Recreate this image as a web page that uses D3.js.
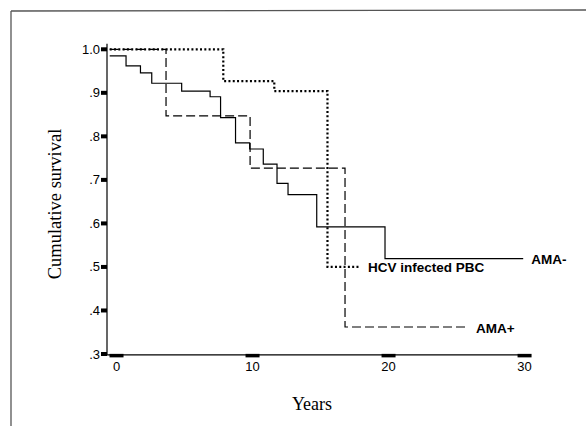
<!DOCTYPE html>
<html>
<head>
<meta charset="utf-8">
<script src="https://cdn.jsdelivr.net/npm/d3@7"></script>
<style>
  html, body { margin: 0; padding: 0; background: #fff; }
  svg { display: block; }
</style>
</head>
<body>
<svg id="chart" width="586" height="426"></svg>
<script>
// ---- data ----
const xTicks = [0, 10, 20, 30];
const xTickLabels = ["0", "10", "20", "30"];
const yTicks = [1.0, 0.9, 0.8, 0.7, 0.6, 0.5, 0.4, 0.3];
const yTickLabels = ["1.0", ".9", ".8", ".7", ".6", ".5", ".4", ".3"];

// AMA- (solid): start value, then [time, new value] at each step, last follow-up time
const amaNegStart = 0.985;
const amaNegSteps = [[0.70, 0.962], [1.76, 0.946], [2.59, 0.922], [4.79, 0.904], [6.88, 0.891],
  [7.65, 0.843], [8.75, 0.785], [9.79, 0.771], [10.79, 0.736], [11.80, 0.692], [12.61, 0.666],
  [14.72, 0.592], [19.74, 0.519]];
const amaNegEnd = 29.9;

// AMA+ (dashed)
const amaPosStart = 1.0;
const amaPosSteps = [[3.64, 0.847], [9.82, 0.727], [16.80, 0.362]];
const amaPosEnd = 25.85;

// HCV infected PBC (dotted)
const hcvStart = 1.0;
const hcvSteps = [[7.85, 0.927], [11.60, 0.904], [15.51, 0.500]];
const hcvEnd = 17.9;

const seriesNames = ["AMA-", "AMA+", "HCV infected PBC"];

// ---- layout ----
const svg = d3.select("#chart");
const x = d3.scaleLinear().domain([-0.7, 30.4]).range([107, 530]);
const y = d3.scaleLinear().domain([0.3, 1.0]).range([354, 49.3]);
const yTop = 1.013, yBottom = 0.298;

// frame (scanned figure border: top and left)
svg.append("line").attr("x1", 11).attr("y1", 11).attr("x2", 586).attr("y2", 10)
  .attr("stroke", "#555").attr("stroke-width", 1.3);
svg.append("line").attr("x1", 11).attr("y1", 11).attr("x2", 11).attr("y2", 426)
  .attr("stroke", "#555").attr("stroke-width", 1.3);

// axes lines
svg.append("line").attr("x1", x.range()[0]).attr("x2", x.range()[0])
  .attr("y1", y(yTop)).attr("y2", y(yBottom)).attr("stroke", "#000").attr("stroke-width", 1.2);
svg.append("line").attr("x1", x.range()[0]).attr("x2", x.range()[1])
  .attr("y1", y(yBottom)).attr("y2", y(yBottom)).attr("stroke", "#000").attr("stroke-width", 1.2);

// y ticks: thick short bars on left of axis
const yg = svg.append("g");
yTicks.forEach((v, i) => {
  yg.append("rect").attr("x", x.range()[0] - 6).attr("y", y(v) - 2)
    .attr("width", 6).attr("height", 4).attr("fill", "#000");
  yg.append("text").attr("x", x.range()[0] - 7).attr("y", y(v))
    .attr("text-anchor", "end").attr("dominant-baseline", "central")
    .attr("font-family", "Liberation Sans, Arial, sans-serif").attr("font-size", 13)
    .text(yTickLabels[i]);
});

// x ticks: thick bars along the axis
const xg = svg.append("g");
xTicks.forEach((v, i) => {
  xg.append("rect").attr("x", x(v) - 7).attr("y", y(yBottom) - 1)
    .attr("width", 14).attr("height", 3.5).attr("fill", "#000");
  xg.append("text").attr("x", x(v)).attr("y", y(yBottom) + 12)
    .attr("text-anchor", "middle").attr("dominant-baseline", "central")
    .attr("font-family", "Liberation Sans, Arial, sans-serif").attr("font-size", 13)
    .text(xTickLabels[i]);
});

// axis titles
svg.append("text").attr("x", 312).attr("y", 410).attr("text-anchor", "middle")
  .attr("font-family", "Liberation Serif, Times New Roman, serif").attr("font-size", 18)
  .text("Years");
svg.append("text").attr("transform", "translate(55,204) rotate(-90)")
  .attr("text-anchor", "middle").attr("dominant-baseline", "central")
  .attr("font-family", "Liberation Serif, Times New Roman, serif").attr("font-size", 18.5)
  .text("Cumulative survival");

// step curves
function stepPoints(start, steps, end) {
  const pts = [[x.domain()[0] + 0.2, start]];
  steps.forEach(s => pts.push([s[0], s[1]]));
  pts.push([end, steps[steps.length - 1][1]]);
  return pts;
}
const line = d3.line().x(d => x(d[0])).y(d => y(d[1])).curve(d3.curveStepAfter);

const series = [
  { name: seriesNames[0], pts: stepPoints(amaNegStart, amaNegSteps, amaNegEnd), dash: null, w: 1.2 },
  { name: seriesNames[1], pts: stepPoints(amaPosStart, amaPosSteps, amaPosEnd), dash: "9,4", w: 1.2 },
  { name: seriesNames[2], pts: stepPoints(hcvStart, hcvSteps, hcvEnd), dash: "2,2.3", w: 2.2 }
];

series.forEach(s => {
  svg.append("path").attr("d", line(s.pts)).attr("fill", "none")
    .attr("stroke", "#000").attr("stroke-width", s.w)
    .attr("stroke-dasharray", s.dash);
  const last = s.pts[s.pts.length - 1];
  svg.append("text").attr("x", x(last[0]) + 8).attr("y", y(last[1]) + 1)
    .attr("dominant-baseline", "central")
    .attr("font-family", "Liberation Sans, Arial, sans-serif").attr("font-size", 13.5)
    .attr("font-weight", "bold")
    .text(s.name);
});
</script>
</body>
</html>
